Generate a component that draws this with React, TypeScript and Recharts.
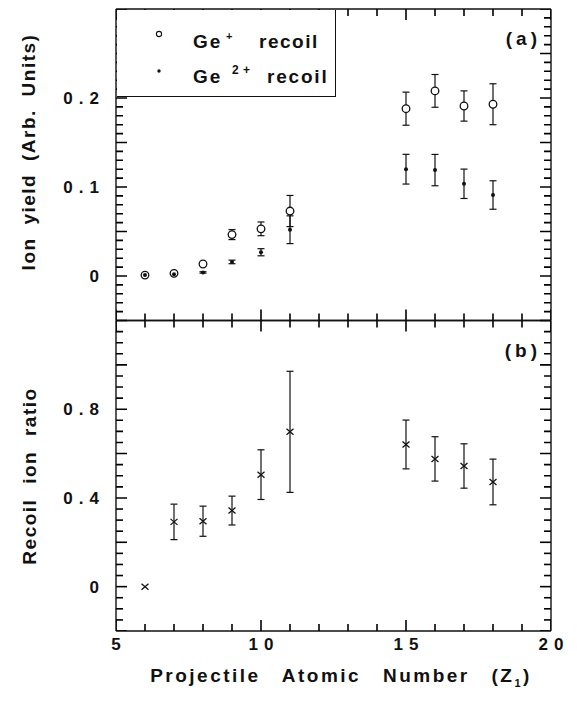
import React from "react";
import { ScatterChart, Scatter, XAxis, YAxis, ErrorBar, Legend } from "recharts";

// projectile atomic number Z1
const zValues = [6, 7, 8, 9, 10, 11, 15, 16, 17, 18];

// (a) ion yield, arbitrary units
const geSingle = [0.001, 0.003, 0.0135, 0.0465, 0.053, 0.073, 0.188, 0.208, 0.191, 0.193];
const geSingleErr = [0, 0, 0, 0.0056, 0.0077, 0.0175, 0.0186, 0.0184, 0.017, 0.023];
const geDouble = [0.001, 0.002, 0.004, 0.0158, 0.0267, 0.052, 0.12, 0.119, 0.1036, 0.091];
const geDoubleErr = [0, 0, 0.0008, 0.002, 0.004, 0.0156, 0.0167, 0.0176, 0.0165, 0.016];

// (b) recoil ion ratio
const ratio = [0, 0.292, 0.295, 0.343, 0.505, 0.698, 0.641, 0.576, 0.544, 0.472];
const ratioErr = [0, 0.08, 0.068, 0.065, 0.112, 0.273, 0.11, 0.1, 0.1, 0.103];

// tick labels
const xLabels = [5, 10, 15, 20];
const yieldLabels = [0, 0.1, 0.2];
const ratioLabels = [0, 0.4, 0.8];

const X_DOMAIN = [5, 20];
const YIELD_DOMAIN = [-0.05, 0.3];
const RATIO_DOMAIN = [-0.2, 1.2];

const W = 577;
const H = 701;
const FONT = "'Liberation Sans', Arial, sans-serif";
const INK = "#111";

// evenly spaced tick marks (minor + major), not data
const steps = (from: number, to: number, step: number) => {
  const out: number[] = [];
  const n = Math.round((to - from) / step);
  for (let i = 0; i <= n; i++) out.push(Math.round((from + i * step) * 1000) / 1000);
  return out;
};
const xTicks = steps(5, 20, 1);
const yieldTicks = steps(-0.05, 0.3, 0.01);
const ratioTicks = steps(-0.2, 1.2, 0.05);

const near = (a: number, b: number) => Math.abs(a - b) < 1e-6;
const onStep = (v: number, s: number) => near(v / s, Math.round(v / s));

const rows = (ys: number[], errs: number[]) =>
  zValues.map((z, i) => ({ z, y: ys[i], err: errs[i] }));

type Side = "left" | "right" | "top" | "bottom";

// tick marks along the frame, placed through the chart scales
const frameMarks = (yTicks: number[], yDomain: number[]) => ({
  left: yTicks.map((y) => ({ z: X_DOMAIN[0], y })),
  right: yTicks.map((y) => ({ z: X_DOMAIN[1], y })),
  bottom: xTicks.map((z) => ({ z, y: yDomain[0] })),
  top: xTicks.map((z) => ({ z, y: yDomain[1] })),
});
const marksA = frameMarks(yieldTicks, YIELD_DOMAIN);
const marksB = frameMarks(ratioTicks, RATIO_DOMAIN);

const tickMark = (side: Side, major: number) => (p: any) => {
  const pay = p.payload || {};
  const v = Number(side === "left" || side === "right" ? pay.y : pay.z);
  const len = onStep(v, major) ? 11 : 7;
  const dx = side === "left" ? len : side === "right" ? -len : 0;
  const dy = side === "top" ? len : side === "bottom" ? -len : 0;
  return (
    <path d={`M${p.cx},${p.cy}l${dx},${dy}`} stroke="#000" strokeWidth={1.6} fill="none" />
  );
};

// axis labels only; the marks come from the series above
const makeLabel = (side: Side, labels: number[] = []) => (props: any) => {
  const x = Number(props.x);
  const y = Number(props.y);
  const v = Number(props.payload.value);
  if (!labels.some((l) => near(l, v))) return <g />;
  return side === "left" ? (
    <text x={x - 11} y={y + 6} textAnchor="end" fontFamily={FONT} fontWeight="bold"
      fontSize={17} letterSpacing={6} fill={INK}>{String(v)}</text>
  ) : (
    <text x={x + 3} y={y + 19} textAnchor="middle" fontFamily={FONT} fontWeight="bold"
      fontSize={17} letterSpacing={6} fill={INK}>{String(v)}</text>
  );
};

const OpenCircle = (p: any) => (
  <circle cx={p.cx} cy={p.cy} r={3.8} fill="#fff" stroke={INK} strokeWidth={1.3} />
);
const SmallDot = (p: any) => <circle cx={p.cx} cy={p.cy} r={2} fill={INK} />;
const Cross = (p: any) => (
  <path
    d={`M${p.cx - 3.5},${p.cy - 3}L${p.cx + 3.5},${p.cy + 3}M${p.cx - 3.5},${p.cy + 3}L${p.cx + 3.5},${p.cy - 3}`}
    stroke={INK}
    strokeWidth={1.3}
    fill="none"
  />
);

const LegendBox = () => (
  <div style={{ width: 219, height: 87, boxSizing: "border-box", background: "#fff",
    borderRight: `1.4px solid ${INK}`, borderBottom: `1.4px solid ${INK}` }}>
    <svg width={217} height={85} style={{ display: "block" }}>
      <g fontFamily={FONT} fontWeight="bold" fill={INK} fontSize={19}>
        <circle cx={42} cy={24} r={2.6} fill="#fff" stroke={INK} strokeWidth={1.1} />
        <text x={76} y={38} letterSpacing={2}>Ge</text>
        <text x={109} y={30} fontSize={11}>+</text>
        <text x={142} y={38} letterSpacing={1.5}>recoil</text>
        <circle cx={42} cy={61} r={1.7} fill={INK} />
        <text x={76} y={73} letterSpacing={2}>Ge</text>
        <text x={115} y={64} fontSize={12}>2</text>
        <text x={126} y={64} fontSize={12}>+</text>
        <text x={150} y={73} letterSpacing={1.8}>recoil</text>
      </g>
    </svg>
  </div>
);

const frame = { stroke: INK, strokeWidth: 1.4 };

export default function App() {
  return (
    <div style={{ position: "absolute", left: 0, top: 0, width: W, height: H, background: "#fff" }}>
      {/* (a) ion yield */}
      <div style={{ position: "absolute", left: 0, top: 0 }}>
        <ScatterChart width={W} height={330} margin={{ top: 8, right: 25, bottom: 8.5, left: 115 }}>
          <XAxis xAxisId="b" dataKey="z" type="number" domain={X_DOMAIN} ticks={xTicks} interval={0}
            orientation="bottom" height={1} tickSize={0} tickMargin={0} tickLine={false} axisLine={frame}
            tick={makeLabel("bottom")} allowDataOverflow />
          <XAxis xAxisId="t" type="number" domain={X_DOMAIN} ticks={xTicks} interval={0}
            orientation="top" height={1} tickSize={0} tickLine={false} axisLine={frame} tick={false} allowDataOverflow />
          <YAxis yAxisId="l" dataKey="y" type="number" domain={YIELD_DOMAIN} ticks={yieldTicks} interval={0}
            orientation="left" width={1} tickSize={0} tickMargin={0} tickLine={false} axisLine={frame}
            tick={makeLabel("left", yieldLabels)} allowDataOverflow />
          <YAxis yAxisId="r" type="number" domain={YIELD_DOMAIN} ticks={yieldTicks} interval={0}
            orientation="right" width={1} tickSize={0} tickLine={false} axisLine={frame} tick={false} allowDataOverflow />
          <Legend layout="vertical" align="center" verticalAlign="middle"
            wrapperStyle={{ left: 117, top: 10, width: 219, height: 87, margin: 0 }}
            content={() => <LegendBox />} />
          <Scatter name="tl" xAxisId="b" yAxisId="l" data={marksA.left} shape={tickMark("left", 0.05)} isAnimationActive={false} legendType="none" />
          <Scatter name="tr" xAxisId="b" yAxisId="l" data={marksA.right} shape={tickMark("right", 0.05)} isAnimationActive={false} legendType="none" />
          <Scatter name="tb" xAxisId="b" yAxisId="l" data={marksA.bottom} shape={tickMark("bottom", 5)} isAnimationActive={false} legendType="none" />
          <Scatter name="tt" xAxisId="b" yAxisId="l" data={marksA.top} shape={tickMark("top", 5)} isAnimationActive={false} legendType="none" />
          <Scatter name="Ge+ recoil" xAxisId="b" yAxisId="l" data={rows(geSingle, geSingleErr)}
            shape={OpenCircle} isAnimationActive={false}>
            <ErrorBar dataKey="err" direction="y" width={3.5} stroke={INK} strokeWidth={1.2} isAnimationActive={false} />
          </Scatter>
          <Scatter name="Ge2+ recoil" xAxisId="b" yAxisId="l" data={rows(geDouble, geDoubleErr)}
            shape={SmallDot} isAnimationActive={false}>
            <ErrorBar dataKey="err" direction="y" width={3.5} stroke={INK} strokeWidth={1.2} isAnimationActive={false} />
          </Scatter>
        </ScatterChart>
      </div>

      {/* (b) recoil ion ratio */}
      <div style={{ position: "absolute", left: 0, top: 310 }}>
        <ScatterChart width={W} height={391} margin={{ top: 9.5, right: 25, bottom: 69, left: 115 }}>
          <XAxis xAxisId="b" dataKey="z" type="number" domain={X_DOMAIN} ticks={xTicks} interval={0}
            orientation="bottom" height={1} tickSize={0} tickMargin={0} tickLine={false} axisLine={frame}
            tick={makeLabel("bottom", xLabels)} allowDataOverflow />
          <XAxis xAxisId="t" type="number" domain={X_DOMAIN} ticks={xTicks} interval={0}
            orientation="top" height={1} tickSize={0} tickLine={false} axisLine={frame} tick={false} allowDataOverflow />
          <YAxis yAxisId="l" dataKey="y" type="number" domain={RATIO_DOMAIN} ticks={ratioTicks} interval={0}
            orientation="left" width={1} tickSize={0} tickMargin={0} tickLine={false} axisLine={frame}
            tick={makeLabel("left", ratioLabels)} allowDataOverflow />
          <YAxis yAxisId="r" type="number" domain={RATIO_DOMAIN} ticks={ratioTicks} interval={0}
            orientation="right" width={1} tickSize={0} tickLine={false} axisLine={frame} tick={false} allowDataOverflow />
          <Scatter name="tl" xAxisId="b" yAxisId="l" data={marksB.left} shape={tickMark("left", 0.2)} isAnimationActive={false} legendType="none" />
          <Scatter name="tr" xAxisId="b" yAxisId="l" data={marksB.right} shape={tickMark("right", 0.2)} isAnimationActive={false} legendType="none" />
          <Scatter name="tb" xAxisId="b" yAxisId="l" data={marksB.bottom} shape={tickMark("bottom", 5)} isAnimationActive={false} legendType="none" />
          <Scatter name="tt" xAxisId="b" yAxisId="l" data={marksB.top} shape={tickMark("top", 5)} isAnimationActive={false} legendType="none" />
          <Scatter name="ratio" xAxisId="b" yAxisId="l" data={rows(ratio, ratioErr)}
            shape={Cross} isAnimationActive={false}>
            <ErrorBar dataKey="err" direction="y" width={3.5} stroke={INK} strokeWidth={1.2} isAnimationActive={false} />
          </Scatter>
        </ScatterChart>
      </div>

      {/* titles and panel tags */}
      <svg width={W} height={H} style={{ position: "absolute", left: 0, top: 0, pointerEvents: "none" }}>
        <g fontFamily={FONT} fontWeight="bold" fill={INK}>
          <text transform="translate(35,152) rotate(-90)" textAnchor="middle" fontSize={19}
            letterSpacing={1.5} wordSpacing={6}>Ion yield (Arb. Units)</text>
          <text transform="translate(36,476) rotate(-90)" textAnchor="middle" fontSize={19}
            letterSpacing={1.5} wordSpacing={8}>Recoil ion ratio</text>
          <text x={341} y={682} textAnchor="middle" fontSize={19} letterSpacing={2.5} wordSpacing={14}>
            Projectile Atomic Number (Z<tspan dy={5} fontSize={11}>1</tspan><tspan dy={-5}>)</tspan>
          </text>
          <text x={541} y={45} textAnchor="end" fontSize={19} letterSpacing={4}>(a)</text>
          <text x={541} y={357} textAnchor="end" fontSize={19} letterSpacing={4}>(b)</text>
        </g>
      </svg>
    </div>
  );
}
